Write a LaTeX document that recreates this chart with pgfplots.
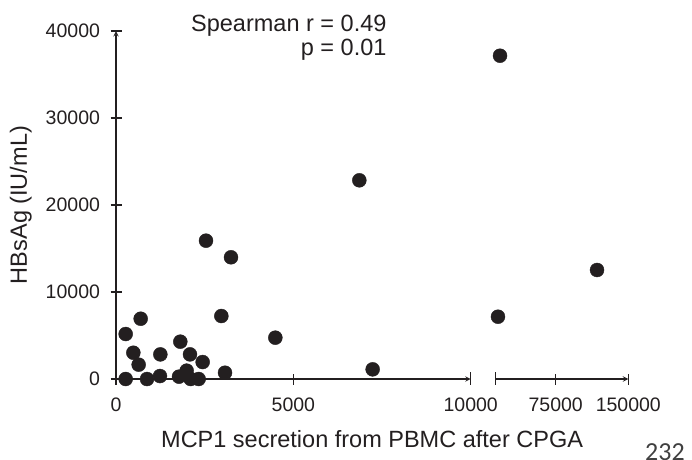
\documentclass[border=0pt]{standalone}
\usepackage{pgfplots}
\pgfplotsset{compat=1.18}
\usepackage{fontspec}
\setmainfont{Liberation Sans}
\newfontfamily\pagefont{Carlito}
\definecolor{ink}{HTML}{231F20}
\pgfplotstableread{
x y
273 5170
273 0
489 3020
696 6930
639 1650
874 0
1250 2830
1240 340
1813 4290
1776 270
1992 960
2086 2830
2105 0
2330 0
2443 1950
2537 15900
2970 7240
3073 720
3242 13990
4492 4750
7236 1110
6860 22840
}\segA
\pgfplotstableread{
x y
15400 7160
17500 37160
117700 12530
}\segB
\pgfplotsset{
  brk/.style={
    scale only axis, clip=false, enlargelimits=false,
    scaled ticks=false,
    height=348pt, ymin=0, ymax=40000,
    axis line style={-, line width=1.4pt, ink},
    every outer x axis line/.append style={-},
    every outer y axis line/.append style={-},
    tick align=outside, major tick length=11pt,
    every tick/.style={line width=1.4pt, ink},
    tick label style={font=\fontsize{19.5}{20}\selectfont, text=ink},
    xticklabel style={yshift=-10pt},
    yticklabel style={xshift=-7pt},
  },
  dots/.style={only marks, mark=*, mark size=7pt, mark options={fill=ink, draw=ink}},
}
\begin{document}
\begin{tikzpicture}
\path[use as bounding box] (0,0) rectangle (692pt,459pt);
\begin{axis}[brk,
  at={(116pt,80pt)}, anchor=south west,
  width=354.7pt, xmin=0, xmax=10000,
  axis x line=bottom, axis y line=left,
  xtick={0,5000,10000}, xticklabels={0,5000,10000},
  ytick={0,10000,20000,30000,40000}, yticklabels={0,10000,20000,30000,40000},
  xlabel={MCP1 secretion from PBMC after CPGA},
  ylabel={HBsAg (IU/mL)},
  xlabel style={at={(axis description cs:0.722,-0.198)}, anchor=base, font=\fontsize{23.5}{24}\selectfont, text=ink},
  ylabel style={at={(axis description cs:-0.251,0.5)}, anchor=base, font=\fontsize{23.5}{24}\selectfont, text=ink},
]
\addplot[dots] table[x=x,y=y] {\segA};
\draw[line width=1.4pt, ink] (axis cs:10000,0) -- ++(0pt,7pt);
\end{axis}
\begin{axis}[brk,
  at={(495.3pt,80pt)}, anchor=south west,
  width=133pt, xmin=12640, xmax=150000,
  axis x line=bottom, axis y line=none,
  xtick={12640,75000,150000}, xticklabels={,75000,150000},
]
\addplot[dots] table[x=x,y=y] {\segB};
\draw[line width=1.4pt, ink] (axis cs:12640,0) -- ++(0pt,7pt);
\end{axis}
\node[anchor=base east, font=\fontsize{23.5}{24}\selectfont, text=ink] at (390pt,427.3pt) {Spearman r = 0.49};
\node[anchor=base east, font=\fontsize{23.5}{24}\selectfont, text=ink] at (390pt,403pt) {p = 0.01};
\node[anchor=base west, inner sep=0pt, font=\pagefont\fontsize{26}{26}\selectfont, text=black!75] at (645pt,-1pt) {232};
\end{tikzpicture}
\end{document}
